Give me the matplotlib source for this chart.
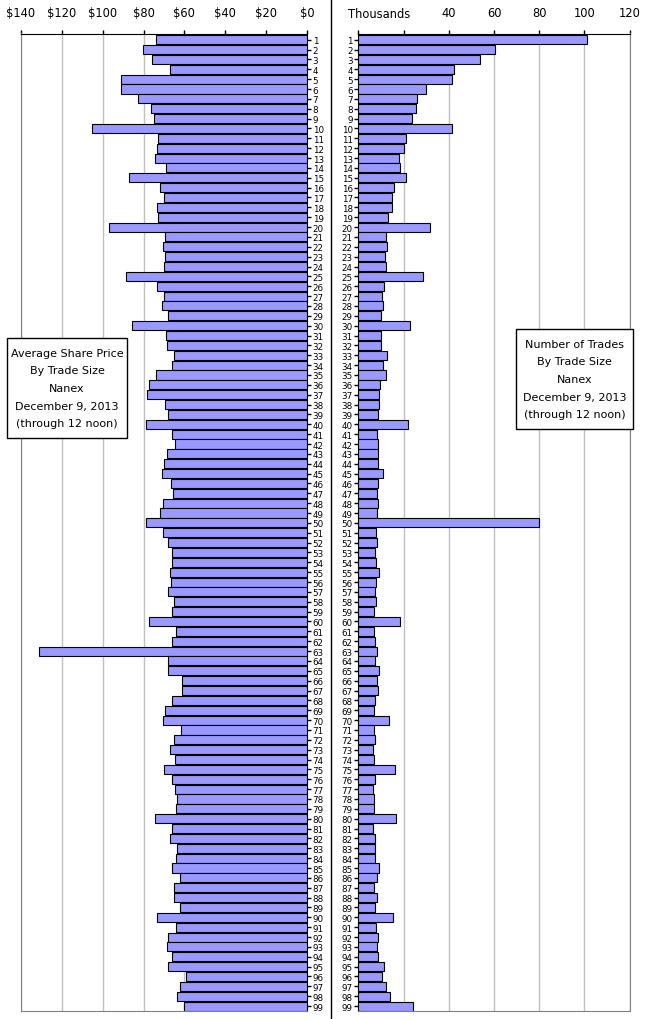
import matplotlib.pyplot as plt
from matplotlib.lines import Line2D
from matplotlib.patches import Rectangle
from matplotlib.transforms import blended_transform_factory

trade_size = list(range(1, 100))

avg_price = [
    73.7, 80.5, 76.1, 67.3, 90.9, 91.2, 82.9, 76.6, 75.1, 105.4,
    72.7, 73.2, 74.6, 68.8, 87.3, 72.2, 70.2, 73.2, 72.7, 97.1,
    69.3, 70.6, 69.3, 70.2, 88.8, 73.2, 70.2, 71.2, 67.8, 85.9,
    68.8, 68.3, 64.9, 65.9, 74.1, 77.1, 78.5, 69.3, 67.8, 79.0,
    65.9, 64.4, 68.3, 69.8, 71.2, 66.8, 65.4, 70.7, 72.2, 79.0,
    70.7, 67.8, 65.9, 66.3, 67.3, 66.8, 67.8, 64.9, 65.9, 77.1,
    63.9, 66.3, 131.2, 67.8, 67.8, 61.0, 61.0, 66.3, 69.3, 70.7,
    61.5, 64.9, 67.3, 64.4, 70.2, 66.3, 64.4, 63.4, 63.9, 74.6,
    65.9, 67.3, 63.4, 63.9, 65.9, 62.0, 64.9, 64.9, 62.4, 73.2,
    63.9, 67.8, 68.3, 66.3, 67.8, 59.0, 62.4, 63.4, 60.0,
]

num_trades = [
    100.9, 60.6, 54.0, 42.5, 41.6, 30.1, 26.1, 25.7, 23.9, 41.6,
    21.2, 20.4, 18.1, 18.6, 21.2, 15.9, 15.0, 15.0, 13.3, 31.9,
    12.4, 12.8, 11.9, 12.4, 28.8, 11.5, 10.6, 11.1, 10.2, 23.0,
    10.2, 10.2, 12.8, 11.1, 12.4, 9.7, 9.3, 9.3, 8.8, 22.1,
    8.4, 8.8, 8.8, 8.8, 11.1, 8.8, 8.4, 8.8, 8.4, 80.1,
    8.0, 8.4, 7.5, 8.0, 9.3, 8.0, 7.5, 8.0, 7.1, 18.6,
    7.1, 7.5, 8.4, 7.5, 9.3, 8.4, 8.8, 7.5, 7.1, 13.7,
    7.1, 7.5, 6.6, 7.1, 16.4, 7.5, 6.6, 7.1, 7.1, 16.8,
    6.6, 7.5, 7.5, 7.5, 9.3, 8.4, 7.1, 8.4, 7.5, 15.5,
    8.0, 8.8, 8.4, 8.8, 11.5, 10.6, 12.4, 14.2, 24.3,
]

price_ticks = [0, 20, 40, 60, 80, 100, 120, 140]
price_labels = ["$" + str(t) for t in price_ticks]
trade_ticks = [0, 20, 40, 60, 80, 100, 120]
trade_labels = ["", "", "40", "60", "80", "100", "120"]

price_note = "Average Share Price\nBy Trade Size\nNanex\nDecember 9, 2013\n(through 12 noon)"
trades_note = "Number of Trades\nBy Trade Size\nNanex\nDecember 9, 2013\n(through 12 noon)"

bar_color = "#9999FF"
W, H = 645, 1020

fig = plt.figure(figsize=(6.45, 10.2), dpi=100)
bottom = 8 / H
height = 977.5 / H
ax1 = fig.add_axes([21 / W, bottom, 286 / W, height])
ax2 = fig.add_axes([358.3 / W, bottom, 271.4 / W, height])

for ax, vals in [(ax1, avg_price), (ax2, num_trades)]:
    ax.barh(trade_size, vals, height=0.92, color=bar_color,
            edgecolor="black", linewidth=0.8, zorder=3)
    ax.set_ylim(99.5, 0.37)
    ax.set_yticks(trade_size)
    ax.set_yticklabels([str(n) for n in trade_size], fontsize=6.3)
    ax.xaxis.tick_top()
    ax.grid(axis="x", color="#C0C0C0", linewidth=1, zorder=0)
    ax.tick_params(axis="x", length=3, width=1, pad=7.5, labelsize=8.3)
    ax.tick_params(axis="y", length=3, width=1, pad=1)
    ax.spines["top"].set_color("black")
    ax.spines["bottom"].set_color("#808080")

# left panel: price, axis reversed, labels on the right
ax1.set_xlim(140, 0)
ax1.set_xticks(price_ticks)
ax1.set_xticklabels(price_labels)
ax1.yaxis.tick_right()
ax1.spines["right"].set_color("black")
ax1.spines["left"].set_color("#808080")

# right panel: number of trades
ax2.set_xlim(0, 120)
ax2.set_xticks(trade_ticks)
ax2.set_xticklabels(trade_labels)
ax2.spines["left"].set_color("black")
ax2.spines["right"].set_color("#808080")
tr = blended_transform_factory(ax2.transData, ax2.transAxes)
ax2.text(9, 1.02, "Thousands", transform=tr, ha="center", va="center", fontsize=8.3)

# note boxes (pixel positions from the original)
for note, (x0, y0, x1, y1) in [(price_note, (7, 339, 127, 439)),
                               (trades_note, (516, 330, 633, 430))]:
    fig.add_artist(Rectangle((x0 / W, 1 - y1 / H), (x1 - x0) / W, (y1 - y0) / H,
                             transform=fig.transFigure, facecolor="white",
                             edgecolor="black", linewidth=1, zorder=5))
    fig.text((x0 + x1) / 2 / W, 1 - (y0 + y1) / 2 / H, note, ha="center", va="center",
             fontsize=8, linespacing=1.95, zorder=6)

# divider between the two panels
fig.add_artist(Line2D([331 / W, 331 / W], [0, 1], color="black", linewidth=1))

fig.savefig("out.png", dpi=100)
